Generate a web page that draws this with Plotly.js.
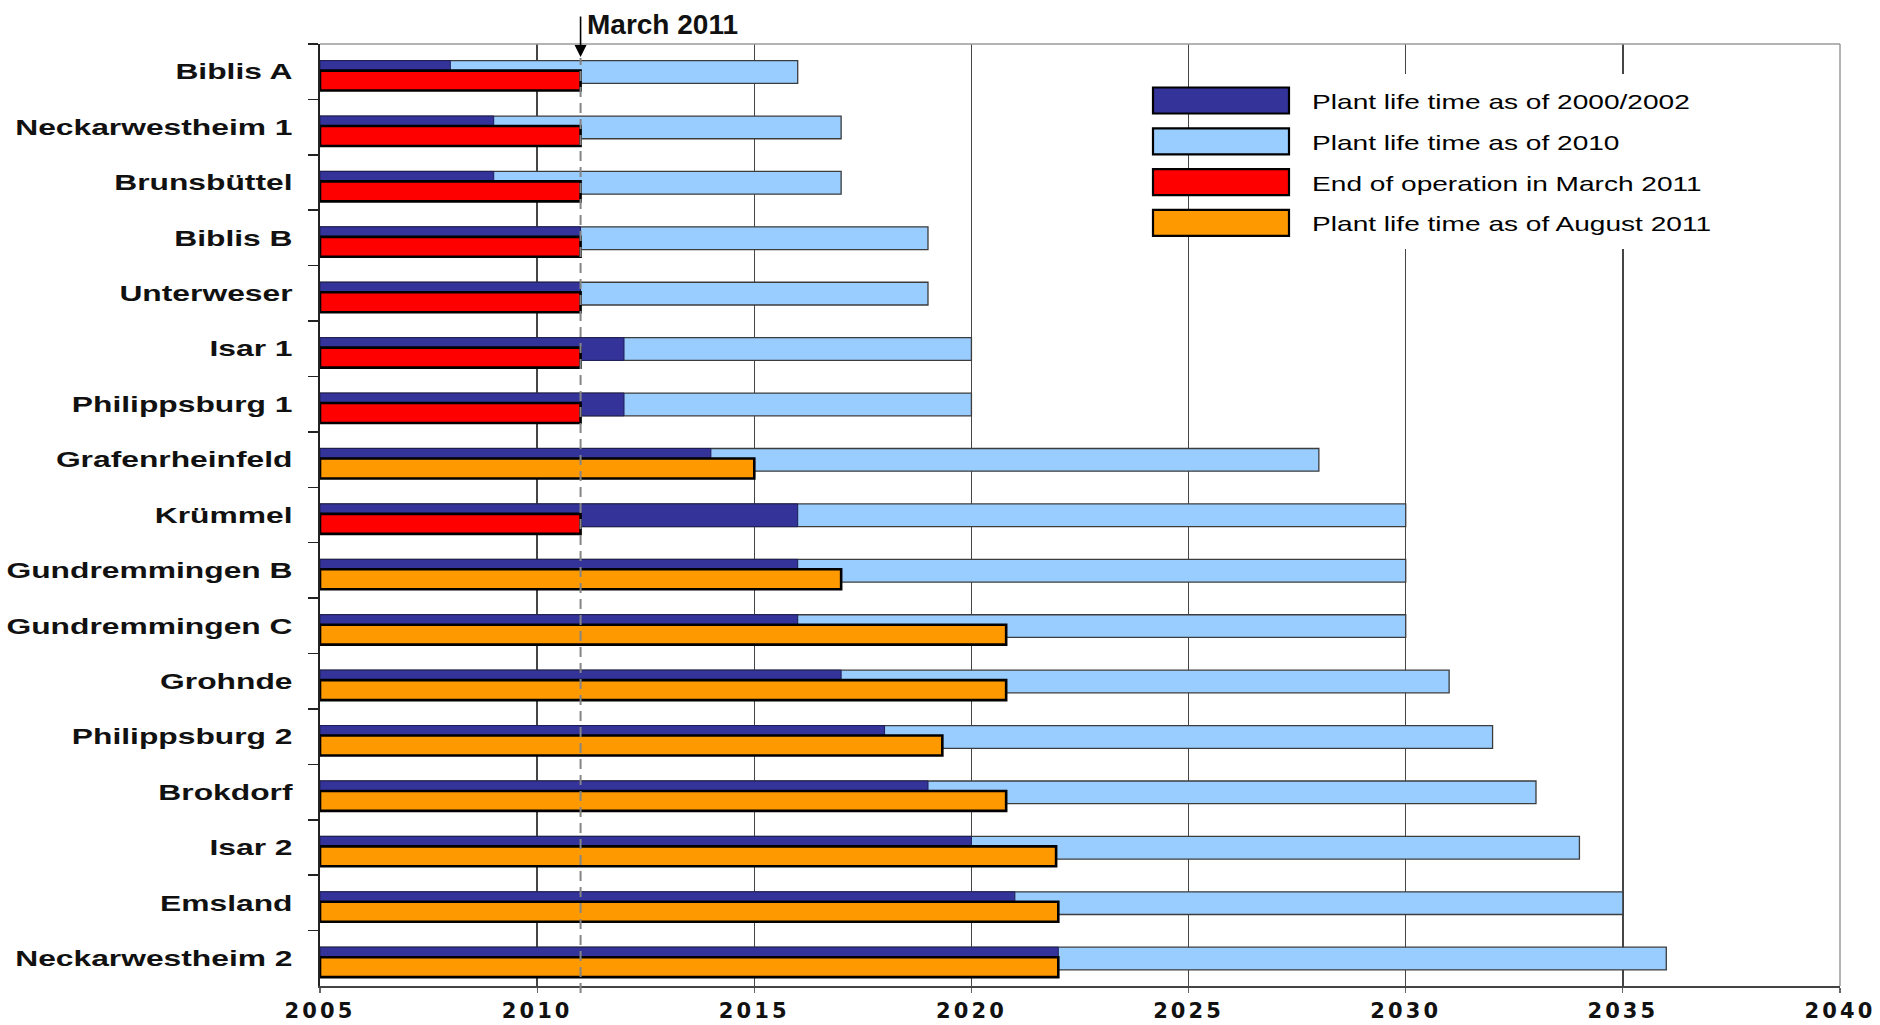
<!DOCTYPE html>
<html>
<head>
<meta charset="utf-8">
<script src="https://cdn.plot.ly/plotly-3.0.1.min.js"></script>
<style>
  html, body { margin: 0; padding: 0; background: #ffffff; }
  #chart { width: 1880px; height: 1025px; }
  /* the reference text is horizontally stretched */
  .yaxislayer-above { transform-origin: 320px 0px; transform: scaleX(1.445); }
  .xtick text { letter-spacing: 3.1px; }
  .annotation[data-index="2"], .annotation[data-index="3"],
  .annotation[data-index="4"], .annotation[data-index="5"] {
    transform-origin: 1312px 0px; transform: scaleX(1.37);
  }
</style>
</head>
<body>
<div id="chart"></div>
<script>
// ---------------- data ----------------
const plants = ["Biblis A", "Neckarwestheim 1", "Brunsbüttel", "Biblis B", "Unterweser",
  "Isar 1", "Philippsburg 1", "Grafenrheinfeld", "Krümmel", "Gundremmingen B",
  "Gundremmingen C", "Grohnde", "Philippsburg 2", "Brokdorf", "Isar 2", "Emsland",
  "Neckarwestheim 2"];
const startYear = 2005;
const life2000_2002 = [2008, 2009, 2009, 2011, 2011, 2012, 2012, 2014, 2016, 2016, 2016, 2017, 2018, 2019, 2020, 2021, 2022];
const life2010 = [2016, 2017, 2017, 2019, 2019, 2020, 2020, 2028, 2030, 2030, 2030, 2031, 2032, 2033, 2034, 2035, 2036];
const endMarch2011 = [2011, 2011, 2011, 2011, 2011, 2011, 2011, null, 2011, null, null, null, null, null, null, null, null];
const lifeAug2011 = [null, null, null, null, null, null, null, 2015, null, 2017, 2020.8, 2020.8, 2019.33, 2020.8, 2021.95, 2022, 2022];
const xTicks = [2005, 2010, 2015, 2020, 2025, 2030, 2035, 2040];
const seriesNames = ["Plant life time as of 2000/2002", "Plant life time as of 2010",
  "End of operation in March 2011", "Plant life time as of August 2011"];
const seriesColors = ["#333399", "#99CCFF", "#FF0000", "#FF9900"];
const markerYear = 2011;
const markerLabel = "March 2011";

// ---------------- geometry helpers (pixels -> paper) ----------------
const W = 1880, H = 1025;
const PL = 320, PR = 1840, PT = 44, PB = 986;
const px2x = px => (px - PL) / (PR - PL);
const px2y = py => (PB - py) / (PB - PT);

function barTrace(vals, name, color, lineColor, lineWidth, off, w) {
  return {
    type: 'bar', orientation: 'h', name: name,
    y: plants,
    x: vals.map(v => v == null ? null : v - startYear),
    base: startYear,
    offset: off, width: w,
    marker: { color: color, line: { color: lineColor, width: lineWidth } },
    hoverinfo: 'skip'
  };
}

const traces = [
  barTrace(life2010, seriesNames[1], seriesColors[1], '#3c3c3c', 1.3, -0.2, 0.41),
  barTrace(life2000_2002, seriesNames[0], seriesColors[0], '#1e1e55', 1, -0.2, 0.41),
  barTrace(endMarch2011, seriesNames[2], seriesColors[2], '#000000', 2.6, -0.02, 0.36),
  barTrace(lifeAug2011, seriesNames[3], seriesColors[3], '#000000', 2.6, -0.02, 0.36)
];

// ---------------- legend (drawn manually) ----------------
const legX0 = 1153, legX1 = 1289, legTextX = 1312, legY0 = 100.5, legDY = 40.8, legH = 26;
const shapes = [];
const annotations = [];

// arrow for March 2011 (annotation 0)
annotations.push({
  xref: 'x', yref: 'paper', x: markerYear, y: px2y(57),
  ax: 0, ay: -42, axref: 'pixel', ayref: 'pixel',
  text: '', showarrow: true, arrowhead: 2, arrowsize: 1.5, arrowwidth: 1.6,
  arrowcolor: '#000000', standoff: 0
});
// label (annotation 1)
annotations.push({
  xref: 'paper', yref: 'paper', x: px2x(585), y: px2y(24),
  xanchor: 'left', yanchor: 'middle', showarrow: false,
  text: '<b>' + markerLabel + '</b>',
  font: { family: 'Liberation Sans, Arial, sans-serif', size: 28, color: '#111111' }
});

// white box behind legend text
shapes.push({
  type: 'rect', xref: 'paper', yref: 'paper', layer: 'above',
  x0: px2x(1300), x1: px2x(1735), y0: px2y(249), y1: px2y(74),
  fillcolor: '#ffffff', line: { width: 0 }
});

const legendOrder = [0, 1, 2, 3];
legendOrder.forEach((s, i) => {
  const cy = legY0 + i * legDY;
  shapes.push({
    type: 'rect', xref: 'paper', yref: 'paper', layer: 'above',
    x0: px2x(legX0), x1: px2x(legX1), y0: px2y(cy + legH / 2), y1: px2y(cy - legH / 2),
    fillcolor: seriesColors[s], line: { color: '#000000', width: 2.2 }
  });
  annotations.push({
    xref: 'paper', yref: 'paper', x: px2x(legTextX - 2), y: px2y(cy + 1),
    xanchor: 'left', yanchor: 'middle', showarrow: false,
    text: seriesNames[s],
    font: { family: 'Liberation Sans, Arial, sans-serif', size: 20.5, color: '#000000' }
  });
});

// plot border (top and right) in grey
shapes.push({ type: 'line', xref: 'paper', yref: 'paper', layer: 'above',
  x0: 0, x1: 1, y0: 1, y1: 1, line: { color: '#9a9a9a', width: 1.5 } });
shapes.push({ type: 'line', xref: 'paper', yref: 'paper', layer: 'above',
  x0: 1, x1: 1, y0: 0, y1: 1, line: { color: '#9a9a9a', width: 1.5 } });

// dashed March 2011 line
shapes.push({ type: 'line', xref: 'x', yref: 'paper', layer: 'above',
  x0: markerYear, x1: markerYear, y0: px2y(993), y1: px2y(58),
  line: { color: '#858585', width: 2, dash: '10px,6px' } });

const layout = {
  width: W, height: H,
  margin: { l: PL, r: W - PR, t: PT, b: H - PB, pad: 0 },
  paper_bgcolor: '#ffffff', plot_bgcolor: '#ffffff',
  barmode: 'overlay', showlegend: false,
  font: { family: 'Liberation Sans, Arial, sans-serif', color: '#000000' },
  xaxis: {
    range: [2005, 2040], tickvals: xTicks, ticktext: xTicks.map(String),
    showgrid: true, gridcolor: '#454545', gridwidth: 1.3, zeroline: false,
    showline: true, linecolor: '#444444', linewidth: 1.6,
    ticks: 'outside', ticklen: 5, tickcolor: '#666666', tickwidth: 1.2,
    ticklabelstandoff: 0,
    tickfont: { family: 'DejaVu Sans, sans-serif', size: 21, weight: 'bold', color: '#111111' },
    fixedrange: true
  },
  yaxis: {
    type: 'category', categoryorder: 'array', categoryarray: plants,
    autorange: 'reversed', showgrid: false, zeroline: false,
    showline: true, linecolor: '#222222', linewidth: 1.6,
    ticks: 'outside', tickson: 'boundaries', ticklen: 7, tickcolor: '#222222', tickwidth: 1.5,
    ticklabelstandoff: 13,
    tickfont: { family: 'Liberation Sans, Arial, sans-serif', size: 22, weight: 'bold', color: '#111111' },
    fixedrange: true
  },
  shapes: shapes,
  annotations: annotations
};

Plotly.newPlot('chart', traces, layout, { staticPlot: true, displayModeBar: false });
</script>
</body>
</html>
